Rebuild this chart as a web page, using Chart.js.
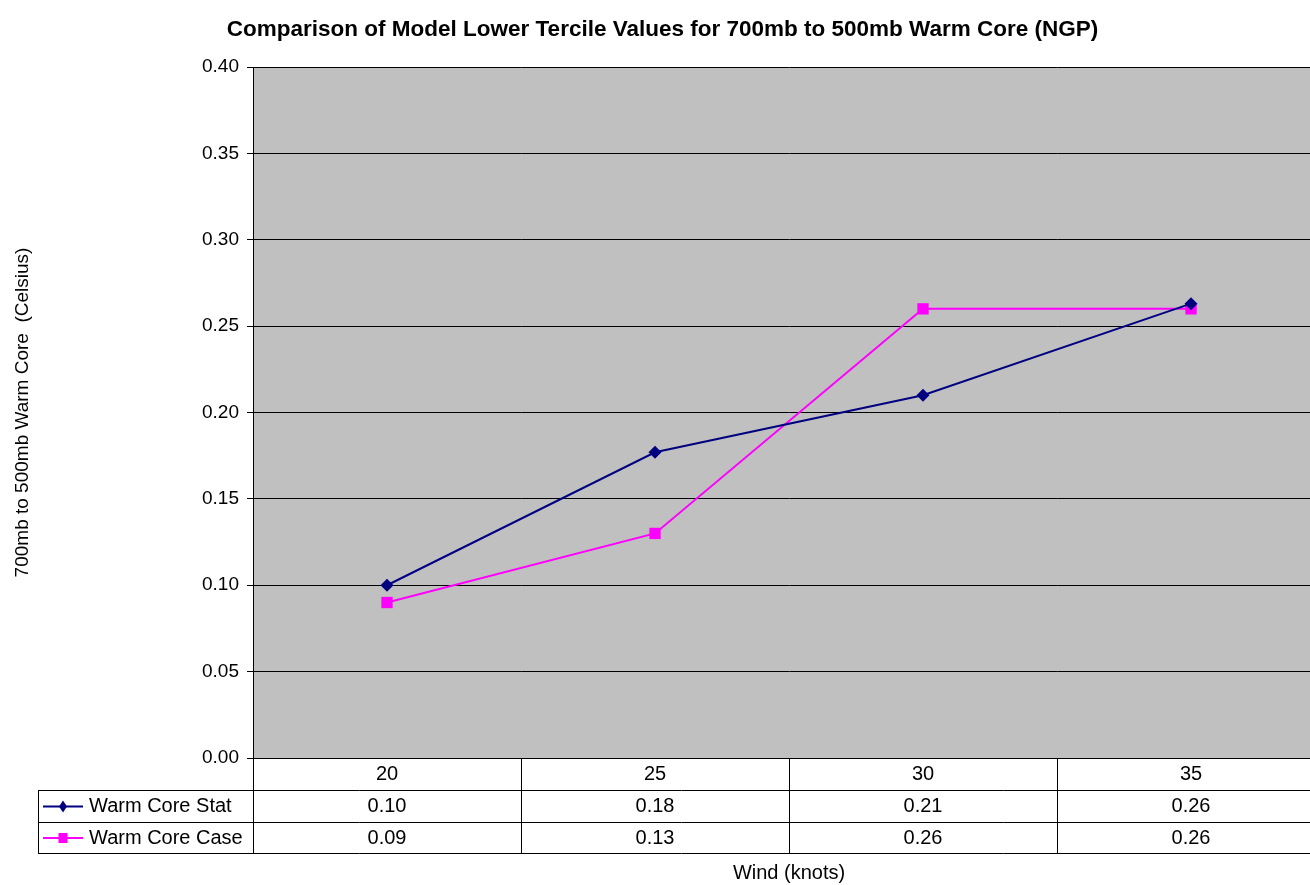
<!DOCTYPE html>
<html>
<head>
<meta charset="utf-8">
<script src="https://cdn.jsdelivr.net/npm/chart.js@4.4.1/dist/chart.umd.min.js"></script>
<style>
	html, body { margin: 0; padding: 0; background: #fff; overflow: hidden; }
	#wrap { width: 1340px; height: 885px; }
</style>
</head>
<body>
<div id="wrap"><canvas id="warmCoreChart" width="1340" height="885"></canvas></div>
<script>
	let windLabels = ["20", "25", "30", "35"];
	let statValues = [0.100, 0.177, 0.210, 0.263];
	let caseValues = [0.090, 0.130, 0.260, 0.260];
	let yTicks = [0, 0.05, 0.10, 0.15, 0.20, 0.25, 0.30, 0.35, 0.40];

	let fontFamily = "'Liberation Sans', Arial, sans-serif";

	let plotBackground = {
		id: "plotBackground",
		beforeDraw: function (chart) {
			let ctx = chart.ctx, a = chart.chartArea;
			ctx.save();
			ctx.fillStyle = "#C0C0C0";
			ctx.fillRect(a.left, a.top, a.right - a.left, a.bottom - a.top);
			ctx.restore();
		}
	};

	// data table under the plot, drawn from the same arrays
	let dataTable = {
		id: "dataTable",
		afterDraw: function (chart) {
			let ctx = chart.ctx, a = chart.chartArea, xs = chart.scales.x;
			let colW = (a.right - a.left) / windLabels.length;
			let rowTop = [a.bottom, a.bottom + 32.5, a.bottom + 64.5, a.bottom + 95.5];
			let headLeft = 38;

			ctx.save();
			ctx.strokeStyle = "#000";
			ctx.lineWidth = 1;
			ctx.beginPath();
			// horizontal lines
			ctx.moveTo(headLeft, rowTop[1]); ctx.lineTo(a.right, rowTop[1]);
			ctx.moveTo(headLeft, rowTop[2]); ctx.lineTo(a.right, rowTop[2]);
			ctx.moveTo(headLeft, rowTop[3]); ctx.lineTo(a.right, rowTop[3]);
			// vertical lines
			ctx.moveTo(headLeft + 0.5, rowTop[1]); ctx.lineTo(headLeft + 0.5, rowTop[3]);
			for (let i = 0; i <= windLabels.length; i++) {
				let x = Math.round(a.left + i * colW) + 0.5;
				ctx.moveTo(x, rowTop[0]); ctx.lineTo(x, rowTop[3]);
			}
			ctx.stroke();

			ctx.fillStyle = "#000";
			ctx.font = "20px " + fontFamily;
			ctx.textAlign = "center";
			ctx.textBaseline = "middle";
			windLabels.forEach(function (lab, i) {
				let x = xs.getPixelForValue(i);
				ctx.fillText(lab, x, (rowTop[0] + rowTop[1]) / 2);
				ctx.fillText(statValues[i].toFixed(2), x, (rowTop[1] + rowTop[2]) / 2);
				ctx.fillText(caseValues[i].toFixed(2), x, (rowTop[2] + rowTop[3]) / 2);
			});

			// legend keys in the row headers
			let rows = [
				{ name: "Warm Core Stat", color: "#000080", marker: "diamond" },
				{ name: "Warm Core Case", color: "#FF00FF", marker: "square" }
			];
			rows.forEach(function (r, i) {
				let y = (rowTop[i + 1] + rowTop[i + 2]) / 2;
				ctx.strokeStyle = r.color;
				ctx.fillStyle = r.color;
				ctx.lineWidth = 2;
				ctx.beginPath();
				ctx.moveTo(43, y); ctx.lineTo(83, y);
				ctx.stroke();
				ctx.beginPath();
				if (r.marker === "diamond") {
					ctx.moveTo(63, y - 6); ctx.lineTo(67, y); ctx.lineTo(63, y + 6); ctx.lineTo(59, y);
				} else {
					ctx.rect(58.5, y - 5, 9, 10);
				}
				ctx.fill();
				ctx.fillStyle = "#000";
				ctx.textAlign = "left";
				ctx.fillText(r.name, 89, y);
			});

			ctx.textAlign = "center";
			ctx.fillText("Wind (knots)", (a.left + a.right) / 2, rowTop[3] + 20);
			ctx.restore();
		}
	};

	let chart = new Chart("warmCoreChart", {
		type: "line",
		data: {
			labels: windLabels,
			datasets: [{
				label: "Warm Core Stat",
				data: statValues,
				borderColor: "#000080",
				backgroundColor: "#000080",
				borderWidth: 2,
				pointStyle: "rectRot",
				pointRadius: 6.5,
				pointBorderWidth: 0,
				fill: false,
				tension: 0
			}, {
				label: "Warm Core Case",
				data: caseValues,
				borderColor: "#FF00FF",
				backgroundColor: "#FF00FF",
				borderWidth: 2,
				pointStyle: "rect",
				pointRadius: 8,
				pointBorderWidth: 0,
				fill: false,
				tension: 0
			}]
		},
		options: {
			responsive: false,
			animation: false,
			layout: { padding: { left: 0, right: 15, top: 0, bottom: 127 } },
			plugins: {
				legend: { display: false },
				tooltip: { enabled: false },
				title: {
					display: true,
					text: "Comparison of Model Lower Tercile Values for 700mb to 500mb Warm Core (NGP)",
					color: "#000",
					font: { family: fontFamily, size: 22.5, weight: "bold" },
					padding: { top: 16, bottom: 24 }
				}
			},
			scales: {
				x: {
					type: "category",
					offset: true,
					ticks: { display: false },
					grid: { display: false },
					border: { display: true, color: "#000", width: 1 },
					afterFit: function (scale) { scale.height = 0; }
				},
				y: {
					min: 0,
					max: 0.4,
					afterBuildTicks: function (scale) {
						scale.ticks = yTicks.map(function (v) { return { value: v }; });
					},
					ticks: {
						color: "#000",
						padding: 8,
						font: { family: fontFamily, size: 19 },
						callback: function (v) { return Number(v).toFixed(2); }
					},
					grid: { color: "#000", lineWidth: 1, tickLength: 6 },
					border: { display: true, color: "#000", width: 1 },
					title: {
						display: true,
						text: "700mb to 500mb Warm Core  (Celsius)",
						color: "#000",
						font: { family: fontFamily, size: 19 },
						padding: { top: 11 }
					},
					afterFit: function (scale) { scale.width = 253; }
				}
			}
		},
		plugins: [plotBackground, dataTable]
	});
</script>
</body>
</html>
